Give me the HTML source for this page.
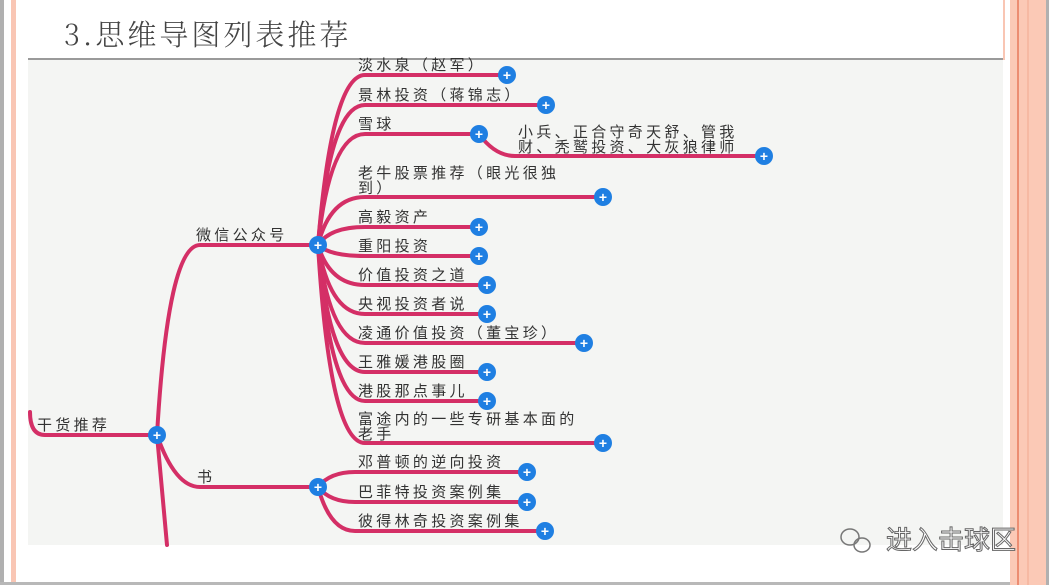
<!DOCTYPE html>
<html><head><meta charset="utf-8"><style>
html,body{margin:0;padding:0;}
body{width:1049px;height:585px;position:relative;overflow:hidden;background:#fff;font-family:"Liberation Sans","Noto Sans CJK SC",sans-serif;}
</style></head><body>
<svg width="1049" height="585" viewBox="0 0 1049 585" xmlns="http://www.w3.org/2000/svg" style="position:absolute;left:0;top:0">
<rect x="0" y="0" width="4" height="585" fill="#b0b0b0"/>
<rect x="11" y="0" width="5" height="585" fill="#f9c6b4"/>
<rect x="0" y="582" width="1049" height="3" fill="#b8b8b8"/>
<rect x="1003" y="0" width="2" height="60" fill="#f9c6b4"/>
<rect x="1010" y="0" width="36" height="585" fill="#fbc9b6"/>
<rect x="1017" y="0" width="2" height="585" fill="#ec8d72"/>
<rect x="1027" y="0" width="2" height="585" fill="#f6b9a3"/>
<rect x="1046" y="0" width="3" height="585" fill="#b0b0b0"/>
<text x="64" y="45" font-family="'Noto Serif CJK SC',serif" font-size="29" font-weight="300" letter-spacing="3" fill="#444">3.思维导图列表推荐</text>
<rect x="28" y="58" width="975" height="2" fill="#9a9a9a"/>
<rect x="28" y="60" width="975" height="485" fill="#f4f5f3"/>
<g fill="none" stroke="#d42f66" stroke-width="4" stroke-linecap="round">
<path d="M30 412 Q30 435 45 435 L157 435"/>
<path d="M157 435 L167 545"/>
<path d="M157 435 Q168 245 200 245 L318 245"/>
<path d="M157 435 Q175 487 200 487 L318 487"/>
<path d="M318 245 Q332 75 365 75 L507 75"/>
<path d="M318 245 Q330 105 365 105 L546 105"/>
<path d="M318 245 Q330 134 365 134 L479 134"/>
<path d="M479 134 Q495 156 515 156 L764 156"/>
<path d="M318 245 Q330 197 365 197 L603 197"/>
<path d="M318 245 Q330 227 365 227 L479 227"/>
<path d="M318 245 Q330 256 365 256 L479 256"/>
<path d="M318 245 Q330 285 365 285 L487 285"/>
<path d="M318 245 Q330 314 365 314 L487 314"/>
<path d="M318 245 Q330 343 365 343 L584 343"/>
<path d="M318 245 Q330 372 365 372 L487 372"/>
<path d="M318 245 Q330 401 365 401 L487 401"/>
<path d="M318 245 Q330 443 365 443 L603 443"/>
<path d="M318 487 Q330 472 355 472 L527 472"/>
<path d="M318 487 Q330 502 355 502 L527 502"/>
<path d="M318 487 Q330 531 355 531 L545 531"/>
</g>
<g font-size="15" fill="#333" letter-spacing="3.3">
<text x="37" y="430">干货推荐</text>
<text x="196" y="240">微信公众号</text>
<text x="197" y="482">书</text>
<text x="358" y="70">淡水泉（赵军）</text>
<text x="358" y="100">景林投资（蒋锦志）</text>
<text x="358" y="129">雪球</text>
<text x="518" y="137">小兵、正合守奇天舒、管我</text>
<text x="518" y="152">财、秃鹫投资、大灰狼律师</text>
<text x="358" y="178">老牛股票推荐（眼光很独</text>
<text x="358" y="193">到）</text>
<text x="358" y="222">高毅资产</text>
<text x="358" y="251">重阳投资</text>
<text x="358" y="280">价值投资之道</text>
<text x="358" y="309">央视投资者说</text>
<text x="358" y="338">凌通价值投资（董宝珍）</text>
<text x="358" y="367">王雅媛港股圈</text>
<text x="358" y="396">港股那点事儿</text>
<text x="358" y="424">富途内的一些专研基本面的</text>
<text x="358" y="439">老手</text>
<text x="358" y="467">邓普顿的逆向投资</text>
<text x="358" y="497">巴菲特投资案例集</text>
<text x="358" y="526">彼得林奇投资案例集</text>
</g>
<g fill="#1f7fe2">
<circle cx="157" cy="435" r="9"/><circle cx="318" cy="245" r="9"/><circle cx="318" cy="487" r="9"/>
<circle cx="507" cy="75" r="9"/><circle cx="546" cy="105" r="9"/><circle cx="479" cy="134" r="9"/>
<circle cx="764" cy="156" r="9"/><circle cx="603" cy="197" r="9"/><circle cx="479" cy="227" r="9"/>
<circle cx="479" cy="256" r="9"/><circle cx="487" cy="285" r="9"/><circle cx="487" cy="314" r="9"/>
<circle cx="584" cy="343" r="9"/><circle cx="487" cy="372" r="9"/><circle cx="487" cy="401" r="9"/>
<circle cx="603" cy="443" r="9"/><circle cx="527" cy="472" r="9"/><circle cx="527" cy="502" r="9"/>
<circle cx="545" cy="531" r="9"/>
</g>
<g fill="#fff" font-size="14" font-weight="bold" text-anchor="middle">
<text x="157" y="440">+</text><text x="318" y="250">+</text><text x="318" y="492">+</text>
<text x="507" y="80">+</text><text x="546" y="110">+</text><text x="479" y="139">+</text>
<text x="764" y="161">+</text><text x="603" y="202">+</text><text x="479" y="232">+</text>
<text x="479" y="261">+</text><text x="487" y="290">+</text><text x="487" y="319">+</text>
<text x="584" y="348">+</text><text x="487" y="377">+</text><text x="487" y="406">+</text>
<text x="603" y="448">+</text><text x="527" y="477">+</text><text x="527" y="507">+</text>
<text x="545" y="536">+</text>
</g>
<g fill="none" stroke="#777" stroke-width="1.5">
<ellipse cx="850" cy="537" rx="9" ry="8"/>
<ellipse cx="862" cy="545" rx="8" ry="7"/>
</g>
<text x="886" y="549" font-size="26" fill="#fff" stroke="#666" stroke-width="1">进入击球区</text>
</svg>
</body></html>
